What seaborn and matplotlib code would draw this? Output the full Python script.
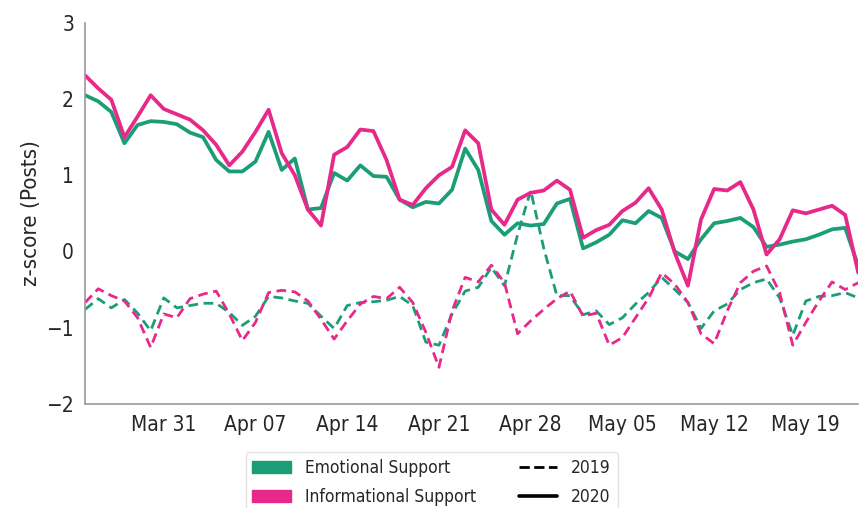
import pandas as pd
import matplotlib
matplotlib.use("Agg")
import matplotlib.pyplot as plt
import matplotlib.dates as mdates
from matplotlib.patches import Patch
from matplotlib.lines import Line2D
import seaborn as sns

# daily z-scores, Mar 25 - May 23
dates = pd.date_range("2020-03-25", periods=60)

info_2020 = [2.31, 2.14, 1.99, 1.50, 1.77, 2.05, 1.87, 1.80, 1.73, 1.59,
             1.40, 1.13, 1.31, 1.57, 1.86, 1.29, 1.00, 0.55, 0.34, 1.27,
             1.37, 1.60, 1.58, 1.20, 0.68, 0.61, 0.83, 1.00, 1.11, 1.59,
             1.42, 0.55, 0.35, 0.68, 0.77, 0.80, 0.93, 0.81, 0.18, 0.28,
             0.35, 0.53, 0.64, 0.83, 0.55, -0.02, -0.45, 0.42, 0.82, 0.80,
             0.91, 0.55, -0.04, 0.16, 0.54, 0.50, 0.55, 0.60, 0.48, -0.28]
emo_2020 = [2.05, 1.97, 1.83, 1.42, 1.66, 1.71, 1.70, 1.67, 1.56, 1.50,
            1.20, 1.05, 1.05, 1.18, 1.57, 1.07, 1.22, 0.55, 0.57, 1.03,
            0.93, 1.13, 0.99, 0.98, 0.68, 0.58, 0.65, 0.63, 0.81, 1.35,
            1.07, 0.40, 0.22, 0.37, 0.34, 0.36, 0.63, 0.69, 0.04, 0.12,
            0.22, 0.41, 0.37, 0.53, 0.44, 0.00, -0.10, 0.16, 0.37, 0.40,
            0.44, 0.32, 0.06, 0.09, 0.13, 0.16, 0.22, 0.29, 0.31, -0.19]
info_2019 = [-0.67, -0.49, -0.58, -0.65, -0.87, -1.26, -0.82, -0.87, -0.62, -0.56,
             -0.52, -0.82, -1.17, -0.93, -0.54, -0.51, -0.53, -0.65, -0.89, -1.15,
             -0.91, -0.69, -0.59, -0.62, -0.47, -0.67, -1.06, -1.52, -0.78, -0.34,
             -0.40, -0.18, -0.41, -1.08, -0.91, -0.76, -0.62, -0.52, -0.85, -0.81,
             -1.23, -1.13, -0.87, -0.61, -0.28, -0.43, -0.67, -1.08, -1.21, -0.78,
             -0.41, -0.26, -0.19, -0.54, -1.23, -0.93, -0.65, -0.40, -0.50, -0.41]
emo_2019 = [-0.76, -0.62, -0.74, -0.63, -0.81, -1.04, -0.61, -0.74, -0.71, -0.68,
            -0.68, -0.80, -0.97, -0.85, -0.59, -0.61, -0.65, -0.68, -0.85, -1.01,
            -0.71, -0.67, -0.66, -0.64, -0.59, -0.71, -1.19, -1.23, -0.82, -0.52,
            -0.47, -0.21, -0.45, 0.22, 0.80, 0.04, -0.58, -0.58, -0.83, -0.78,
            -0.96, -0.87, -0.69, -0.54, -0.34, -0.50, -0.67, -1.01, -0.78, -0.69,
            -0.50, -0.41, -0.36, -0.61, -1.10, -0.65, -0.59, -0.58, -0.54, -0.61]

green = "#1b9e77"
pink = "#e7298a"

frames = []
for name, yr, vals in [("Emotional Support", "2019", emo_2019),
                       ("Informational Support", "2019", info_2019),
                       ("Emotional Support", "2020", emo_2020),
                       ("Informational Support", "2020", info_2020)]:
    frames.append(pd.DataFrame({"date": dates, "z": vals, "support": name, "year": yr}))
df = pd.concat(frames, ignore_index=True)

sns.set_style("white")
plt.rcParams["font.family"] = ["DejaVu Sans"]
plt.rcParams["font.stretch"] = "condensed"

fig = plt.figure(figsize=(8.6, 5.08), dpi=100)
ax = fig.add_axes([0.099, 0.205, 0.899, 0.75])

pal = {"Emotional Support": green, "Informational Support": pink}
sns.lineplot(data=df[df.year == "2019"], x="date", y="z", hue="support",
             palette=pal, linewidth=2.0, dashes=(3.5, 2), legend=False, ax=ax)
sns.lineplot(data=df[df.year == "2020"], x="date", y="z", hue="support",
             palette=pal, linewidth=2.7, legend=False, ax=ax)

ax.set_xlim(dates[0], dates[-1])
ax.set_ylim(-2, 3)
ax.set_yticks(range(-2, 4))
ax.xaxis.set_major_locator(mdates.WeekdayLocator(byweekday=mdates.TU))
ax.xaxis.set_major_formatter(mdates.DateFormatter("%b %d"))
ax.set_xlabel("")
ax.set_ylabel("z-score (Posts)", fontsize=16)
ax.tick_params(axis="both", labelsize=15, length=0, pad=8)
sns.despine(ax=ax)
for s in ["left", "bottom"]:
    ax.spines[s].set_color("#999999")
    ax.spines[s].set_linewidth(1.2)

handles = [Patch(color=green, label="Emotional Support"),
           Patch(color=pink, label="Informational Support"),
           Line2D([], [], color="black", ls="--", lw=2, label="2019"),
           Line2D([], [], color="black", ls="-", lw=2.6, label="2020")]
fig.legend(handles=handles, loc="upper center", bbox_to_anchor=(0.502, 0.127),
           ncol=2, fontsize=12.5, frameon=True, edgecolor="#dddddd",
           columnspacing=2.5, handlelength=2.2, borderpad=0.4, labelspacing=0.62)

fig.savefig("out.png", dpi=100)
